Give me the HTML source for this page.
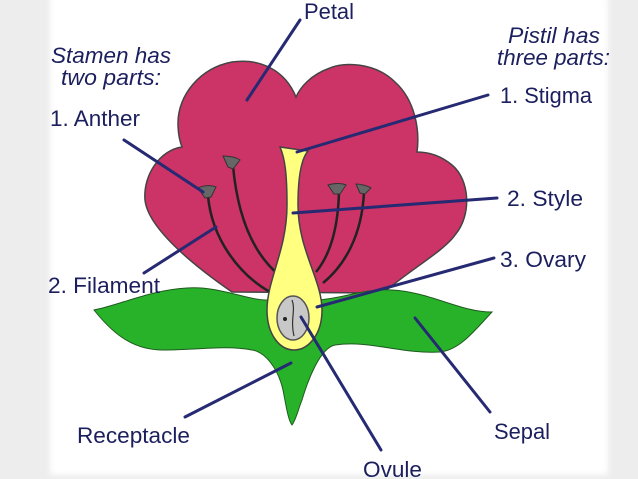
<!DOCTYPE html>
<html><head><meta charset="utf-8"><style>
html,body{margin:0;padding:0;background:#eeeeee;}
svg{display:block;}
text{font-family:"Liberation Sans",Arial,sans-serif;font-size:22px;fill:#1c1f5e;}
</style></head><body>
<svg width="638" height="479" viewBox="0 0 638 479" xmlns="http://www.w3.org/2000/svg">
<defs><filter id="b" x="-5%" y="-5%" width="110%" height="110%"><feGaussianBlur stdDeviation="3"/></filter></defs>
<rect x="0" y="0" width="638" height="479" fill="#ededed"/>
<rect x="50" y="-5" width="558" height="480" fill="#fff" filter="url(#b)"/>
<!-- petal -->
<path d="M296,97 C285,70 260,58 232,62 C200,68 178,95 178,123 C178,135 180,142 182,147 C160,150 143,175 145,200 C148,230 200,270 232,292 L383,293 C410,270 445,250 455,235 C472,215 470,180 452,165 C440,155 428,152 417,152 C420,130 415,100 395,82 C375,62 343,62 330,68 C310,75 300,88 296,97 Z" fill="#cc3366" stroke="#444" stroke-width="1.5"/>
<!-- sepals -->
<path d="M94,310 C120,305 150,290 187,288 C220,286 245,300 268,300 L318,300 C345,298 365,288 392,290 C430,292 460,312 492,312 C475,330 460,350 440,352 C400,354 370,340 335,345 C320,348 308,380 302,400 C298,410 296,420 292,425 C288,420 286,405 283,390 C278,368 265,352 252,350 C225,345 200,350 163,350 C130,350 110,330 94,310 Z" fill="#28b22a" stroke="#1f5a1f" stroke-width="1"/>
<!-- filaments -->
<g fill="none" stroke="#222" stroke-width="2.5">
<path d="M208,196 C212,240 240,275 270,292"/>
<path d="M233,166 C238,220 255,255 279,275"/>
<path d="M339,192 C338,230 330,255 316,272"/>
<path d="M364,192 C362,235 345,265 323,283"/>
</g>
<!-- anthers -->
<g fill="#666" stroke="#333" stroke-width="1">
<path d="M198,188 C204,185 212,185 216,187 L211,197 L205,198 Z"/>
<path d="M223,156 C228,156 236,157 240,160 L233,169 L228,167 Z"/>
<path d="M328,185 C334,183 342,183 346,185 L340,194 L334,194 Z"/>
<path d="M356,184 C361,184 368,186 371,188 L365,194 L360,193 Z"/>
</g>
<!-- pistil -->
<path d="M280,147 L308,151 C302,158 298,175 298,205 C298,250 322,280 322,310 C322,335 308,350 294,350 C280,350 267,335 267,310 C267,280 287,250 287,205 C287,175 285,158 280,147 Z" fill="#ffff80" stroke="#444" stroke-width="1.5"/>
<ellipse cx="293" cy="318" rx="16" ry="22" fill="#c8c8c8" stroke="#555" stroke-width="1.5"/>
<path d="M292,300 C296,310 290,320 294,336" stroke="#333" stroke-width="1.2" fill="none"/>
<circle cx="285" cy="319" r="2" fill="#222"/>
<!-- leader lines -->
<g stroke="#262a72" stroke-width="3" fill="none" stroke-linecap="round">
<line x1="300" y1="20" x2="247" y2="100"/>
<line x1="124" y1="140" x2="203" y2="192"/>
<line x1="144" y1="273" x2="216" y2="227"/>
<line x1="488" y1="95" x2="297" y2="152"/>
<line x1="497" y1="198" x2="293" y2="213"/>
<line x1="494" y1="258" x2="317" y2="307"/>
<line x1="185" y1="417" x2="291" y2="363"/>
<line x1="381" y1="450" x2="301" y2="317"/>
<line x1="490" y1="412" x2="415" y2="318"/>
</g>
<!-- labels -->
<text x="304" y="19" textLength="50" lengthAdjust="spacingAndGlyphs">Petal</text>
<text x="51" y="63" textLength="120" lengthAdjust="spacingAndGlyphs" font-style="italic">Stamen has</text>
<text x="61" y="85" textLength="100" lengthAdjust="spacingAndGlyphs" font-style="italic">two parts:</text>
<text x="50" y="126" textLength="90" lengthAdjust="spacingAndGlyphs">1. Anther</text>
<text x="508" y="43" textLength="92" lengthAdjust="spacingAndGlyphs" font-style="italic">Pistil has</text>
<text x="497" y="65" textLength="113" lengthAdjust="spacingAndGlyphs" font-style="italic">three parts:</text>
<text x="500" y="103" textLength="92" lengthAdjust="spacingAndGlyphs">1. Stigma</text>
<text x="507" y="206" textLength="76" lengthAdjust="spacingAndGlyphs">2. Style</text>
<text x="48" y="293" textLength="112" lengthAdjust="spacingAndGlyphs">2. Filament</text>
<text x="500" y="267" textLength="86" lengthAdjust="spacingAndGlyphs">3. Ovary</text>
<text x="77" y="443" textLength="113" lengthAdjust="spacingAndGlyphs">Receptacle</text>
<text x="494" y="439" textLength="56" lengthAdjust="spacingAndGlyphs">Sepal</text>
<text x="363" y="477" textLength="59" lengthAdjust="spacingAndGlyphs">Ovule</text>
</svg>
</body></html>
